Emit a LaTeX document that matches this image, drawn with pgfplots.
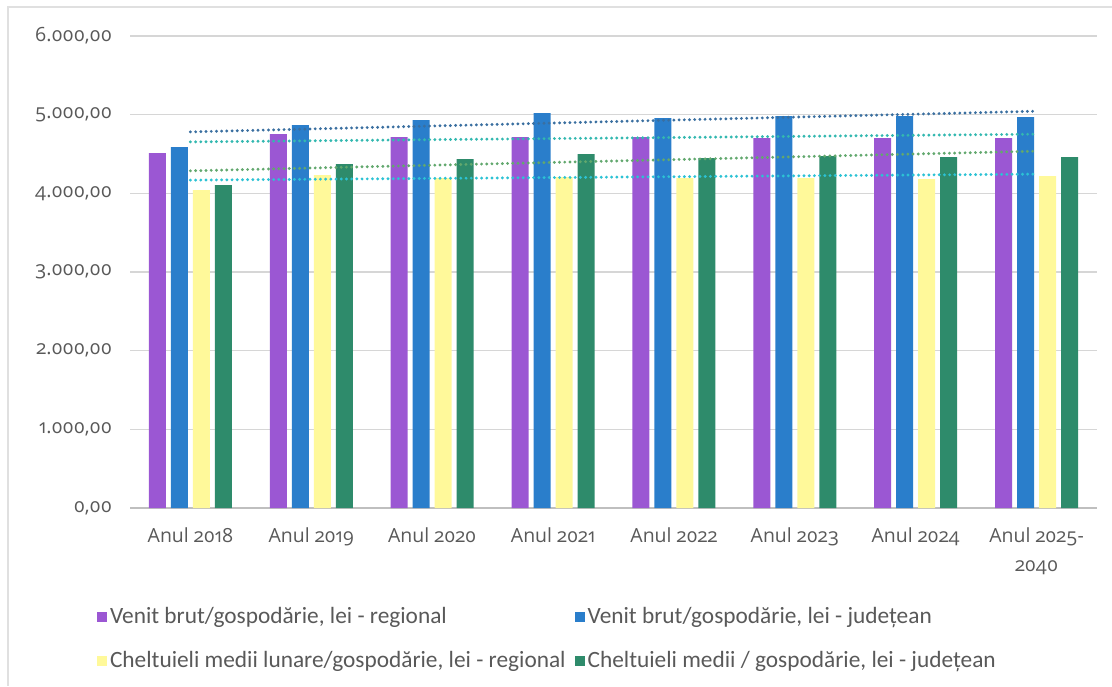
\documentclass[border=0pt]{standalone}
\usepackage{pgfplots}
\pgfplotsset{compat=1.18}
\usepackage{fontspec}
\setmainfont{Carlito}
\newfontfamily\tickfont{Open Sans}[Numbers=OldStyle]
\definecolor{cpurple}{HTML}{9B57D3}
\definecolor{cblue}{HTML}{2A7ECB}
\definecolor{cyellow}{HTML}{FFF99A}
\definecolor{cgreen}{HTML}{2E8B6B}
\definecolor{tblue}{HTML}{3A6FA0}
\definecolor{tteal}{HTML}{33B8B0}
\definecolor{tgreen}{HTML}{62A86E}
\definecolor{tcyan}{HTML}{2CC2D4}
\definecolor{txt}{HTML}{595959}
\begin{document}
\begin{tikzpicture}
\useasboundingbox (0,0) rectangle (834pt,514.5pt);
\draw[black!12, line width=1.5pt] (6pt,0) -- (6pt,509.25pt) -- (834pt,509.25pt);
\pgfplotsset{
  base/.style={
    at={(97.5pt,133.5pt)}, anchor=south west,
    scale only axis, width=725.25pt, height=354pt,
    xmin=-0.5, xmax=7.5, ymin=0, ymax=6000,
  }
}
\begin{axis}[base,
  ybar=3.75pt, bar width=12.75pt,
  ytick={0,1000,...,6000},
  xtick={0,...,7},
  xticklabels={Anul 2018,Anul 2019,Anul 2020,Anul 2021,Anul 2022,Anul 2023,Anul 2024,{Anul 2025-\\2040}},
  xticklabel style={align=center, font=\tickfont\fontsize{14.6}{22}\selectfont, text=txt, yshift=-11pt},
  yticklabel style={font=\tickfont\fontsize{14.7}{18}\selectfont, text=txt, xshift=-10pt},
  /pgf/number format/.cd, fixed, fixed zerofill, precision=2, 1000 sep={.}, use comma, assume math mode=true,
  /pgfplots/.cd,
  major tick length=0pt,
  ymajorgrids, grid style={draw=black!16, line width=1pt},
  axis lines*=left,
  y axis line style={draw=none},
  x axis line style={draw=black!25, line width=1pt, -},
  legend columns=2,
  legend cell align=left,
  legend style={at={(-0.034,-0.205)}, anchor=north west, draw=none, inner sep=0pt,
    font=\fontsize{17.5}{20}\selectfont, text=txt, row sep=15pt,
    /tikz/every even column/.append style={column sep=5pt},
    nodes={inner xsep=2pt}},
  legend image code/.code={\fill[#1] (0pt,-4pt) rectangle (7.5pt,3.5pt);},
]
\addplot[fill=cpurple, draw=none] coordinates {(0,4511) (1,4752) (2,4714) (3,4714) (4,4714) (5,4701) (6,4701) (7,4701)};
\addlegendentry{Venit brut/gospodărie, lei - regional}
\addplot[fill=cblue, draw=none] coordinates {(0,4587) (1,4867) (2,4930) (3,5019) (4,4955) (5,4981) (6,4981) (7,4968)};
\addlegendentry{Venit brut/gospodărie, lei - județean}
\addplot[fill=cyellow, draw=none] coordinates {(0,4040) (1,4230) (2,4193) (3,4206) (4,4193) (5,4193) (6,4180) (7,4219)};
\addlegendentry{Cheltuieli medii lunare/gospodărie, lei - regional}
\addplot[fill=cgreen, draw=none] coordinates {(0,4104) (1,4371) (2,4435) (3,4498) (4,4447) (5,4473) (6,4460) (7,4460)};
\addlegendentry{Cheltuieli medii / gospodărie, lei - județean}
\end{axis}
\begin{axis}[base, axis lines=none, ticks=none, clip=false]
\addplot[tblue, line width=2.4pt, line cap=round, dash pattern=on 0pt off 3.9pt] coordinates {(0,4781) (7,5044)};
\addplot[tteal, line width=2.4pt, line cap=round, dash pattern=on 0pt off 3.9pt] coordinates {(0,4654) (7,4752)};
\addplot[tgreen, line width=2.4pt, line cap=round, dash pattern=on 0pt off 3.9pt] coordinates {(0,4286) (7,4536)};
\addplot[tcyan, line width=2.4pt, line cap=round, dash pattern=on 0pt off 3.9pt] coordinates {(0,4168) (7,4244)};
\end{axis}
\end{tikzpicture}
\end{document}
